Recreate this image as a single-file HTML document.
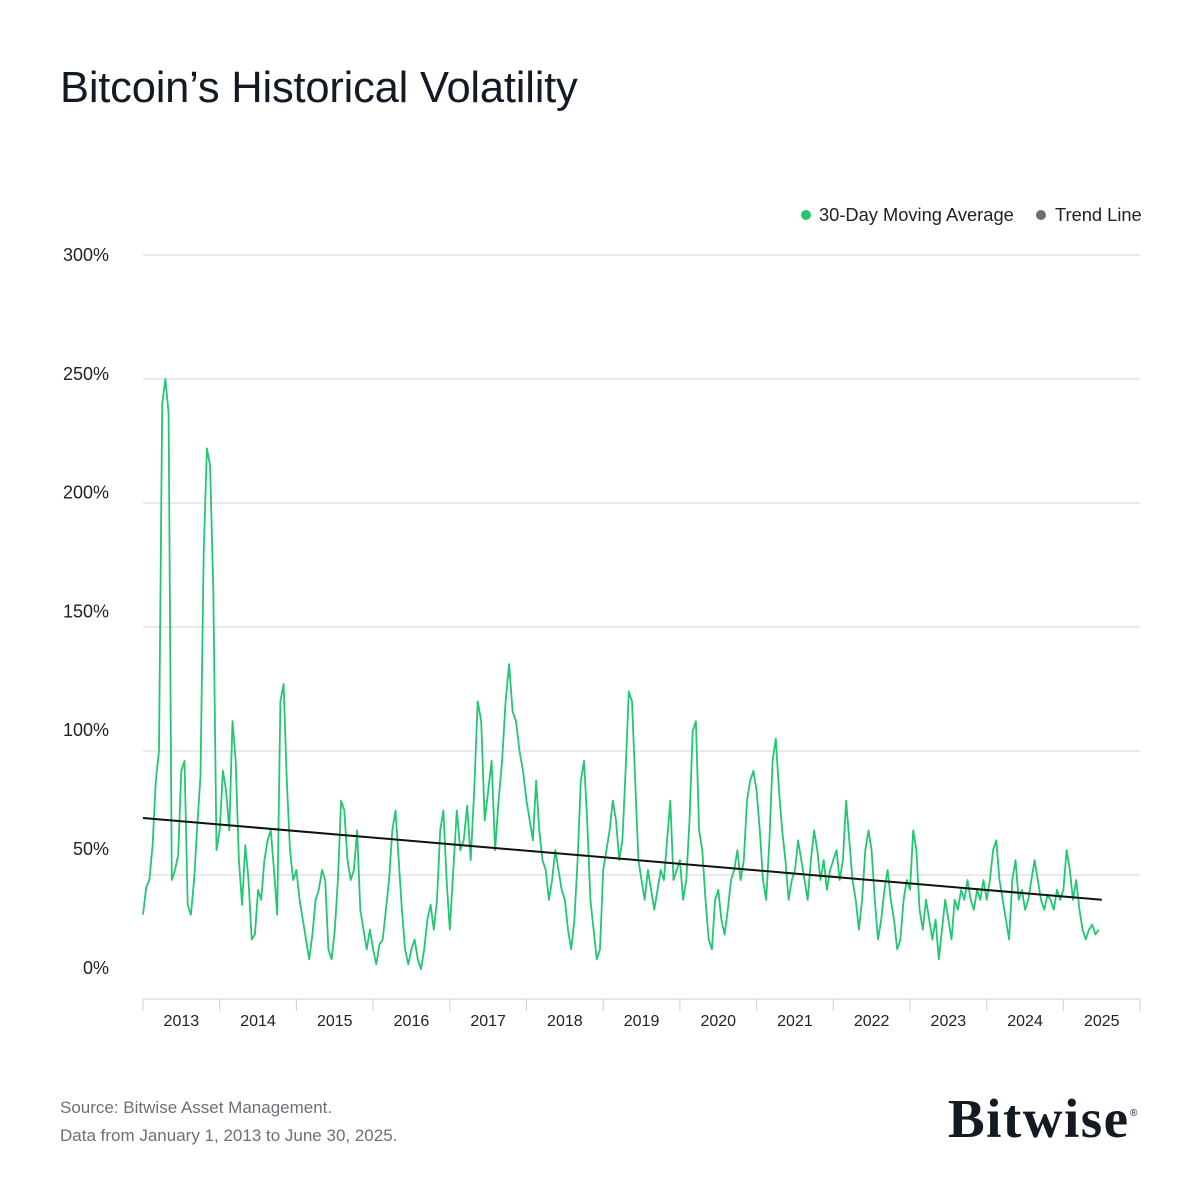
<!DOCTYPE html>
<html><head><meta charset="utf-8">
<style>
body{margin:0;background:#fff;font-family:"Liberation Sans",sans-serif;}
#wrap{position:relative;width:1200px;height:1200px;overflow:hidden;}
</style></head>
<body>
<div id="wrap">
<svg id="chart" width="1200" height="1200" xmlns="http://www.w3.org/2000/svg">
<text x="60" y="102" font-size="43.5" fill="#141a24" letter-spacing="-0.2" font-family="Liberation Sans, sans-serif">Bitcoin’s Historical Volatility</text>
<g>
<circle cx="806" cy="215" r="5" fill="#22c772"/>
<text x="819" y="221" font-size="18.3" fill="#222">30-Day Moving Average</text>
<circle cx="1041" cy="215" r="5" fill="#6b6e76"/>
<text x="1055" y="221" font-size="18.3" fill="#222">Trend Line</text>
</g>
<g id="grid"></g>
<g id="yl"></g>
<g id="xl"></g>
<g id="series"></g>
<text x="60" y="1113" font-size="17" fill="#6b6f78">Source: Bitwise Asset Management.</text>
<text x="60" y="1141" font-size="17" fill="#6b6f78">Data from January 1, 2013 to June 30, 2025.</text>
<text x="948" y="1137" font-size="55" font-weight="bold" fill="#141a24" letter-spacing="1.5" font-family="Liberation Serif, serif">Bitwise</text>
<text x="1130" y="1116" font-size="10" fill="#141a24">®</text>
</svg>
</div>
<script>
const years=[2013,2014,2015,2016,2017,2018,2019,2020,2021,2022,2023,2024,2025];
const yTicks=[0,50,100,150,200,250,300];
const yTickLabels=["0%","50%","100%","150%","200%","250%","300%"];
const v2013=[34,45,48,62,88,100,240,250,236,48,52,58,92,96,38,34,48,70,90,180,222,215,165,60];
const v2014=[68,92,84,68,112,96,56,38,62,48,24,26,44,40,56,64,68,52,34,120,127,88,60,48];
const v2015=[52,40,32,24,16,26,40,44,52,48,20,16,28,48,80,76,56,48,52,68,36,28,20,28];
const v2016=[20,14,22,24,36,48,68,76,56,36,20,14,20,24,16,12,20,32,38,28,40,68,76,48];
const v2017=[28,52,76,60,64,78,56,84,120,112,72,84,96,60,80,96,120,135,116,112,100,92];
const v2018=[80,72,64,88,68,56,52,40,48,60,52,44,40,28,20,32,56,88,96,72,40,28,16,20];
const v2019=[52,60,68,80,72,56,64,92,124,120,88,56,48,40,52,44,36,44,52,48,64,80,48,52];
const v2020=[56,40,48,72,108,112,68,60,40,24,20,40,44,32,26,36,48,52,60,48,56,80,88,92];
const v2021=[84,68,48,40,64,96,105,84,68,56,40,48,52,64,56,48,40,56,68,60,48,56,44,52];
const v2022=[56,60,48,56,80,64,48,40,28,40,60,68,60,40,24,32,44,52,40,32,20,24,40,48];
const v2023=[44,68,60,36,28,40,32,24,32,16,28,40,32,24,40,36,44,40,48,40,36,44,40,48];
const v2024=[40,48,60,64,48,40,32,24,48,56,40,44,36,40,48,56,48,40,36,42,40,36,44,40];
const v2025=[44,60,52,40,48,36,28,24,28,30,26,28];
const trendStart=73, trendEnd=40;

const NS="http://www.w3.org/2000/svg";
const X0=143, YW=76.7, Y0=999, PX=2.48;
const xs=t=>X0+(t-2013)*YW;
const ys=v=>Y0-v*PX;
const labelY=v=>261+(300-v)/50*118.8;
function mk(tag,attrs,parent){const e=document.createElementNS(NS,tag);for(const k in attrs)e.setAttribute(k,attrs[k]);document.getElementById(parent).appendChild(e);return e;}

yTicks.forEach((t,i)=>{
  if(t>0){const g=mk('line',{x1:143,x2:1140,y1:ys(t),y2:ys(t),stroke:'#d6d6d6','stroke-width':1},'grid');
  
  }
  const l=mk('text',{x:109,y:labelY(t),'font-size':18,fill:'#222','text-anchor':'end'},'yl');
  l.textContent=yTickLabels[i];
  
  
});
const ax=mk('line',{x1:143,x2:1140,y1:Y0,y2:Y0,stroke:'#cfcfcf','stroke-width':1},'grid');


for(let i=0;i<=years.length;i++){
  const tk=mk('line',{x1:xs(2013+i),x2:xs(2013+i),y1:Y0,y2:Y0+12,stroke:'#cfcfcf','stroke-width':1},'grid');
  
  
}
years.forEach(y=>{
  const t=mk('text',{x:xs(y+0.5),y:1026,'font-size':16,fill:'#222','text-anchor':'middle'},'xl');
  t.textContent=String(y);
  
  
});
const all=[v2013,v2014,v2015,v2016,v2017,v2018,v2019,v2020,v2021,v2022,v2023,v2024,v2025];
let pts=[];
all.forEach((arr,k)=>{
  const span=years[k]===2025?0.5:1;
  arr.forEach((v,i)=>{pts.push([xs(years[k]+span*i/arr.length),ys(v)]);});
});
const p=mk('polyline',{points:pts.map(q=>q[0].toFixed(1)+','+q[1].toFixed(1)).join(' '),fill:'none',stroke:'#22c772','stroke-width':1.8,'stroke-linejoin':'round'},'series');


const tr=mk('line',{x1:xs(2013),y1:ys(trendStart),x2:xs(2025.5),y2:ys(trendEnd),stroke:'#111','stroke-width':2},'series');


</script>
</body></html>
